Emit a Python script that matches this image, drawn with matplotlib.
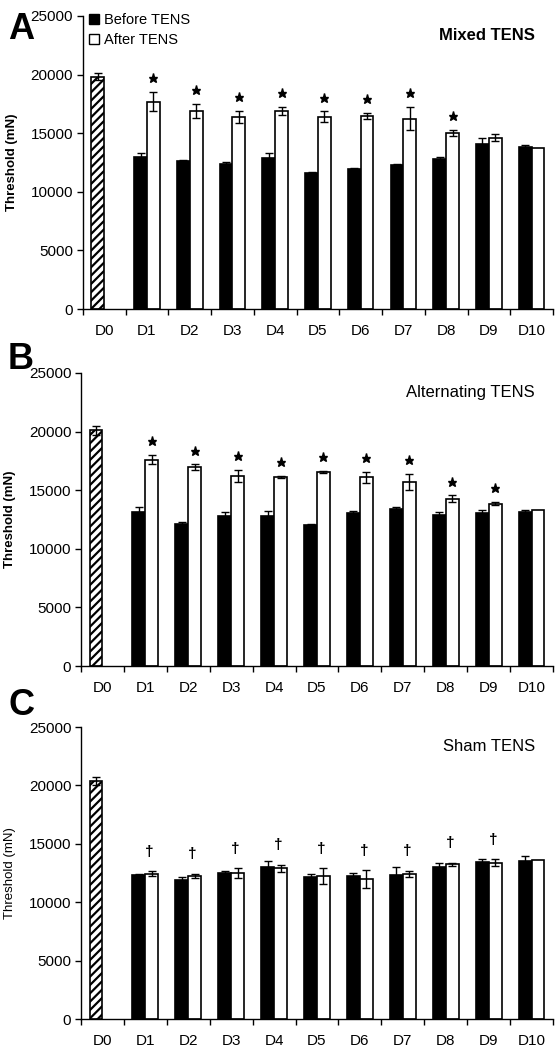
import numpy as np
import matplotlib

matplotlib.use("Agg")

import matplotlib.pyplot as plt
from matplotlib.patches import Patch
from matplotlib.transforms import offset_copy

plt.rcParams["font.family"] = ["Liberation Sans", "DejaVu Sans"]
plt.rcParams["hatch.linewidth"] = 1.6

days = ["D0", "D1", "D2", "D3", "D4", "D5", "D6", "D7", "D8", "D9", "D10"]

# Mixed TENS (D0 baseline, then D1..D10)
mixed_d0 = 19800
mixed_d0_err = 300
mixed_before = [13000, 12600, 12400, 12900, 11600, 11950, 12300, 12800, 14100, 13800]
mixed_before_err = [350, 100, 100, 450, 60, 60, 100, 150, 500, 150]
mixed_after = [17700, 16900, 16400, 16900, 16400, 16500, 16250, 15050, 14600, 13750]
mixed_after_err = [850, 600, 500, 350, 450, 250, 1000, 250, 300, 0]
mixed_marked = ["D1", "D2", "D3", "D4", "D5", "D6", "D7", "D8"]

# Alternating TENS
alt_d0 = 20100
alt_d0_err = 350
alt_before = [13100, 12150, 12800, 12800, 12050, 13050, 13400, 12900, 13050, 13100]
alt_before_err = [500, 150, 300, 450, 100, 200, 150, 200, 250, 250]
alt_after = [17600, 16950, 16200, 16150, 16550, 16100, 15700, 14250, 13850, 13300]
alt_after_err = [400, 250, 500, 100, 100, 450, 650, 300, 150, 0]
alt_marked = ["D1", "D2", "D3", "D4", "D5", "D6", "D7", "D8", "D9"]

# Sham TENS
sham_d0 = 20400
sham_d0_err = 350
sham_before = [12300, 11900, 12500, 13050, 12200, 12250, 12350, 13000, 13450, 13550]
sham_before_err = [150, 250, 200, 450, 250, 250, 650, 350, 250, 400]
sham_after = [12450, 12250, 12500, 12900, 12250, 12000, 12450, 13250, 13400, 13600]
sham_after_err = [200, 200, 400, 300, 650, 750, 250, 150, 300, 0]
sham_marked = ["D1", "D2", "D3", "D4", "D5", "D6", "D7", "D8", "D9"]

W = 0.3


def draw_panel(ax, d0, d0_err, before, before_err, after, after_err,
               marked, mark, title, title_bold, ylabel_bold, legend=False):
    x = np.arange(1, len(days))
    before = np.array(before, float)
    after = np.array(after, float)
    before_err = np.array(before_err, float)
    after_err = np.array(after_err, float)

    ax.bar(0 - W / 2, d0, W, color="white", edgecolor="black",
           linewidth=1.2, hatch="////", zorder=2)
    ax.bar(x - W / 2, before, W, color="black", edgecolor="black",
           linewidth=1.2, zorder=2)
    ax.bar(x + W / 2, after, W, color="white", edgecolor="black",
           linewidth=1.2, zorder=2)

    ekw = dict(fmt="none", ecolor="black", elinewidth=1.0, capsize=3,
               capthick=1.0, zorder=3)
    ax.errorbar([0 - W / 2], [d0], yerr=[d0_err], **ekw)
    ax.errorbar(x - W / 2, before, yerr=before_err, **ekw)
    has = after_err > 0
    ax.errorbar((x + W / 2)[has], after[has], yerr=after_err[has], **ekw)

    idx = np.array([days.index(d) for d in marked])
    tops = after[idx - 1] + after_err[idx - 1]
    fig = ax.figure
    if mark == "star":
        tr = offset_copy(ax.transData, fig=fig, y=10, units="points")
        ax.plot(idx + W / 2, tops, ls="none", marker="*", ms=6.5,
                color="black", transform=tr, clip_on=False)
    else:
        tr = offset_copy(ax.transData, fig=fig, y=14, units="points")
        for xi, t in zip(idx, tops):
            ax.text(xi + W / 2 - 0.05, t, "\u2020", ha="center", va="center",
                    fontsize=11, fontweight="bold", transform=tr)

    ax.set_xlim(-0.5, len(days) - 0.5)
    ax.set_ylim(0, 25000)
    ax.set_yticks(np.arange(0, 25001, 5000))
    ax.set_xticks(np.arange(len(days)))
    ax.set_xticklabels(days)
    ax.set_xticks(np.arange(len(days) + 1) - 0.5, minor=True)
    ax.tick_params(axis="x", which="major", length=0, pad=11, labelsize=11)
    ax.tick_params(axis="x", which="minor", length=4, direction="out", width=1)
    ax.tick_params(axis="y", length=4, direction="out", width=1, labelsize=11, pad=3)
    for s in ("top", "right"):
        ax.spines[s].set_visible(False)
    for s in ("left", "bottom"):
        ax.spines[s].set_linewidth(1.0)

    ax.set_ylabel("Threshold (mN)", fontsize=9.5,
                  fontweight="bold" if ylabel_bold else "normal")
    ax.yaxis.set_label_coords(-0.138, 0.5)
    ax.text(0.962, 0.935, title, transform=ax.transAxes, ha="right",
            va="center", fontsize=12,
            fontweight="bold" if title_bold else "normal")

    if legend:
        handles = [Patch(facecolor="black", edgecolor="black"),
                   Patch(facecolor="white", edgecolor="black")]
        ax.legend(handles, ["Before TENS", "After TENS"], loc="upper left",
                  bbox_to_anchor=(-0.005, 1.04), frameon=False, fontsize=10.5,
                  handlelength=0.7, handleheight=0.7, handletextpad=0.3,
                  labelspacing=0.4, borderaxespad=0.2)


fig = plt.figure(figsize=(5.6, 10.5), dpi=100)
ax_a = fig.add_axes([0.148, 0.7057, 0.8395, 0.2791])
ax_b = fig.add_axes([0.1446, 0.3657, 0.8429, 0.2791])
ax_c = fig.add_axes([0.1446, 0.0295, 0.8429, 0.2781])

draw_panel(ax_a, mixed_d0, mixed_d0_err, mixed_before, mixed_before_err,
           mixed_after, mixed_after_err, mixed_marked, "star",
           "Mixed TENS", True, True, legend=True)
draw_panel(ax_b, alt_d0, alt_d0_err, alt_before, alt_before_err,
           alt_after, alt_after_err, alt_marked, "star",
           "Alternating TENS", False, True)
draw_panel(ax_c, sham_d0, sham_d0_err, sham_before, sham_before_err,
           sham_after, sham_after_err, sham_marked, "dagger",
           "Sham TENS", False, False)

for letter, ytop in (("A", 12), ("B", 342), ("C", 688)):
    fig.text(8 / 560, 1 - ytop / 1050, letter, fontsize=26, fontweight="bold",
             ha="left", va="top")

fig.savefig("out.png", dpi=100)
plt.close(fig)
